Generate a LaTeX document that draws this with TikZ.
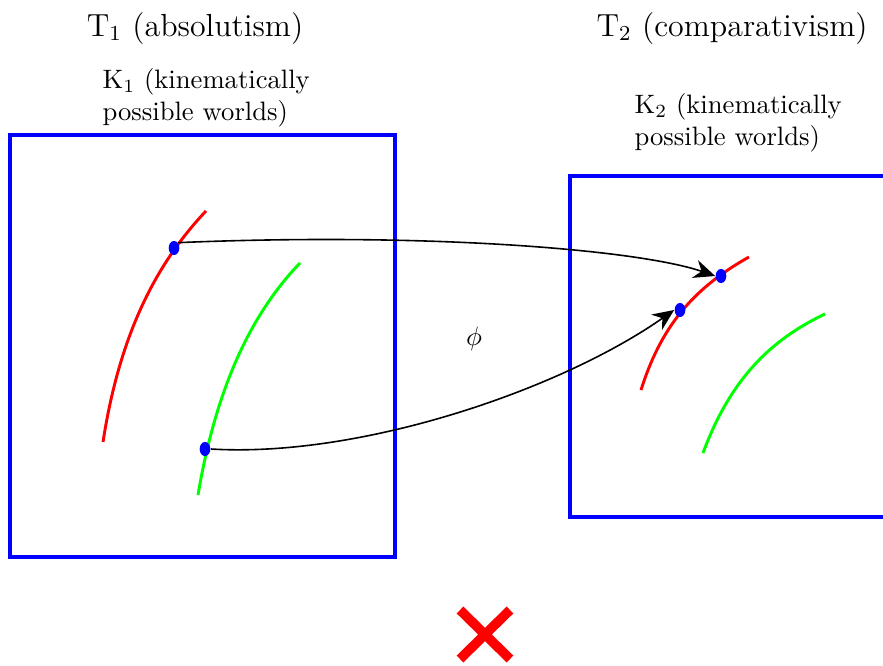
\documentclass[tikz,border=0pt]{standalone}
\usetikzlibrary{shapes.geometric,arrows.meta}

\tikzset{
  kbox/.style={blue, line width=1.2pt},
  world/.style={line width=1.1pt},
  dot/.style={ellipse, fill=blue, inner sep=0pt, minimum width=4pt, minimum height=5.3pt},
  title/.style={font=\large, anchor=base},
  klabel/.style={align=left, anchor=north west, inner sep=0pt},
  mapto/.style={black, line width=0.6pt, -{Stealth[length=8pt, width=7pt]}}
}

\begin{document}
\begin{tikzpicture}[x=0.0132cm, y=-0.0132cm]
  \useasboundingbox (0,0) rectangle (883,665);

  % --- Titulos ---
  \node[title] (t1) at (195,36) {T$_1$ (absolutism)};
  \node[title] (t2) at (732,36) {T$_2$ (comparativism)};

  % --- Cajas K1, K2 ---
  \draw[kbox] (10,135) rectangle (395,557);
  \draw[kbox] (895,176) -- (570,176) -- (570,517) -- (895,517);
  \node[klabel] (k1) at (102,68) {K$_1$ (kinematically\\possible worlds)};
  \node[klabel] (k2) at (634,93) {K$_2$ (kinematically\\possible worlds)};

  % --- Curvas en K1 ---
  \draw[world, red]   (103,442) .. controls (118,345) and (150,270) .. (206,211);
  \draw[world, green] (198,495) .. controls (214,400) and (245,320) .. (300,263);

  % --- Curvas en K2 ---
  \draw[world, red]   (641,390) .. controls (660,330) and (690,290) .. (749,257);
  \draw[world, green] (703,453) .. controls (730,380) and (770,340) .. (825,314);

  % --- Puntos ---
  \node[dot] (a1) at (174,248) {};
  \node[dot] (a2) at (205,449) {};
  \node[dot] (b1) at (721,276) {};
  \node[dot] (b2) at (680,310) {};

  % --- Aplicacion phi ---
  \draw[mapto] (a1.north east) .. controls (430,232) and (640,250) .. (b1.west);
  \draw[mapto] (a2.east) .. controls (360,458) and (560,390) .. (b2.west);
  \node (phi) at (474,339) {$\phi$};

  % --- Cruz ---
  \draw[red, line width=3.6pt] (460,610) -- (510,659) (510,610) -- (460,659);

\end{tikzpicture}
\end{document}
